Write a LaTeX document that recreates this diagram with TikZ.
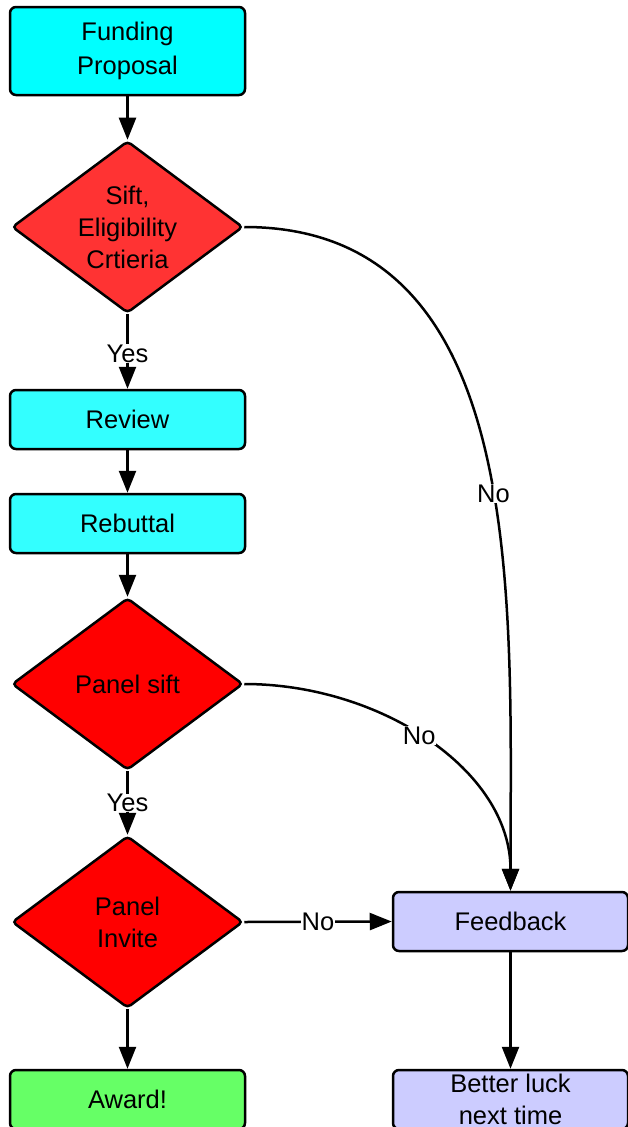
\documentclass[tikz,border=0pt]{standalone}
\usepackage{fontspec}
\setmainfont{Liberation Sans}
\usetikzlibrary{arrows.meta,shapes.geometric}
\definecolor{cyanA}{HTML}{00FFFF}
\definecolor{cyanB}{HTML}{33FFFF}
\definecolor{redA}{HTML}{FF3333}
\definecolor{redB}{HTML}{FF0000}
\definecolor{greenA}{HTML}{66FF66}
\definecolor{lavA}{HTML}{CCCCFF}
\tikzset{
  txt/.style={font=\fontsize{25.5}{32}\selectfont, align=center},
  boxnode/.style={txt, draw=black, line width=2.5pt, rounded corners=6pt,
    minimum width=235pt, minimum height=59pt, inner sep=0pt},
  decision/.style={txt, diamond, draw=black, line width=2.5pt, rounded corners=4pt,
    minimum width=231pt, minimum height=172pt, aspect=1.343, inner sep=0pt},
  conn/.style={line width=2.5pt, -{Triangle[length=22pt,width=17pt]}},
  lbl/.style={txt, fill=white, inner sep=0.5pt}
}
\begin{document}
\begin{tikzpicture}[x=1pt,y=-1pt]
\useasboundingbox (0,0) rectangle (627,1127);
\node[boxnode, fill=cyanA, minimum height=88pt] (fund) at (127.5,51) {Funding\\[2pt]Proposal};
\node[decision, fill=redA] (sift) at (127.5,227) {Sift,\\Eligibility\\Crtieria};
\node[boxnode, fill=cyanB] (review) at (127.5,419.5) {Review};
\node[boxnode, fill=cyanB] (rebut) at (127.5,523.5) {Rebuttal};
\node[decision, fill=redB] (psift) at (127.5,684) {Panel sift};
\node[decision, fill=redB] (pinv) at (127.5,922) {Panel\\Invite};
\node[boxnode, fill=greenA] (award) at (127.5,1099.5) {Award!};
\node[boxnode, fill=lavA] (feed) at (510.5,921.5) {Feedback};
\node[boxnode, fill=lavA] (better) at (510.5,1099.5) {Better luck\\next time};

\draw[conn] (fund) -- (sift);
\draw[conn] (sift) -- node[lbl, pos=0.53] {Yes} (review);
\draw[conn] (review) -- (rebut);
\draw[conn] (rebut) -- (psift);
\draw[conn] (psift) -- node[lbl, pos=0.5] {Yes} (pinv);
\draw[conn] (pinv) -- (award);
\draw[conn] (pinv.east) -- node[lbl, pos=0.5] {No} (feed.west);
\draw[conn] (feed) -- (better);
\draw[conn] (sift.east) .. controls (530,227) and (510.5,600) .. node[lbl, pos=0.555] {No} (feed.north);
\draw[conn] (psift.east) .. controls (380,684) and (510.5,770) .. node[lbl, pos=0.47] {No} (feed.north);
\end{tikzpicture}
\end{document}
